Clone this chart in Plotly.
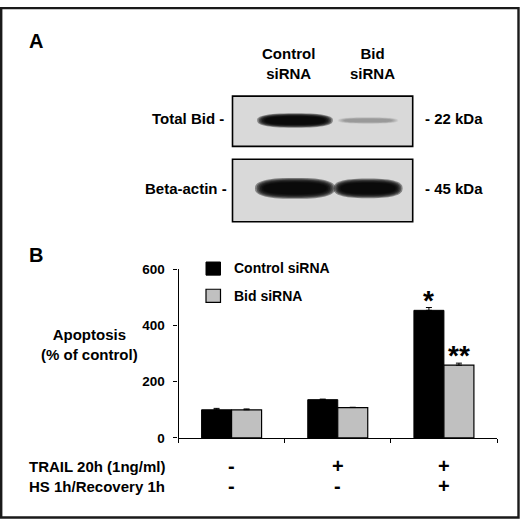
import numpy as np
import plotly.graph_objects as go

W, H = 520, 527

# ---- panel B: apoptosis bars ----
conditions = ["untreated", "TRAIL", "TRAIL + HS"]
trail_row = ["-", "+", "+"]
hs_row = ["-", "-", "+"]
control_sirna = [100, 136, 454]
control_err = [5, 2, 10]
bid_sirna = [100, 108, 259]
bid_err = [3, 1, 7]
y_ticks = [0, 200, 400, 600]
stars_control = ["", "", "*"]
stars_bid = ["", "", "**"]

# ---- panel A: western blot ----
lanes = ["Control<br>siRNA", "Bid<br>siRNA"]
blot_rows = ["Total Bid -", "Beta-actin -"]
kda_labels = ["- 22 kDa", "- 45 kDa"]
total_bid_band = [1.0, 0.3]   # relative band darkness per lane
actin_band = [1.0, 1.0]

FONT = "Liberation Sans, Arial, Helvetica, sans-serif"


def px(x):
    return x / W


def py(y):
    return 1 - y / H


def txt(text, x, y, size=15, xanchor="center", yanchor="middle", **kw):
    return dict(text=text, x=px(x), y=py(y), xref="paper", yref="paper",
                showarrow=False, xanchor=xanchor, yanchor=yanchor,
                font=dict(family=FONT, size=size, color="black", weight=700), **kw)


fig = go.Figure()

fig.add_trace(go.Bar(x=list(range(len(conditions))), y=control_sirna, name="Control siRNA",
                     marker=dict(color="black", line=dict(color="black", width=1)),
                     error_y=dict(type="data", symmetric=False, array=control_err,
                                  arrayminus=[0] * 3, color="black", thickness=1, width=3),
                     hovertext=conditions, showlegend=False))
fig.add_trace(go.Bar(x=list(range(len(conditions))), y=bid_sirna, name="Bid siRNA",
                     marker=dict(color="#c0c0c0", line=dict(color="black", width=1.2)),
                     error_y=dict(type="data", symmetric=False, array=bid_err,
                                  arrayminus=[0] * 3, color="black", thickness=1, width=3),
                     hovertext=conditions, showlegend=False))

# invisible anchor trace for the blot subplot
fig.add_trace(go.Scatter(x=[0, 1, 0, 1], y=[0, 0, 1, 1], xaxis="x2", yaxis="y2",
                         mode="markers", marker=dict(opacity=0), showlegend=False,
                         hoverinfo="skip"))

fig.update_layout(
    width=W, height=H, autosize=False,
    margin=dict(l=0, r=0, t=0, b=0),
    paper_bgcolor="white", plot_bgcolor="rgba(0,0,0,0)",
    barmode="group", bargap=0.435, bargroupgap=0,
    font=dict(family=FONT, size=14, color="black", weight=700),
    xaxis=dict(domain=[px(178.5), px(497)], range=[-0.5, 2.5],
               tickvals=[-0.5, 0.5, 1.5, 2.5], showticklabels=False,
               ticks="outside", ticklen=4, tickwidth=1, tickcolor="black",
               showline=True, linecolor="black", linewidth=1.2,
               showgrid=False, zeroline=False, fixedrange=True),
    yaxis=dict(domain=[py(443.5), py(270)], range=[0, 600], tickvals=y_ticks,
               ticks="outside", ticklen=4, tickwidth=1, tickcolor="black",
               ticklabelstandoff=6,
               tickfont=dict(family=FONT, size=13.5, color="black", weight=700),
               showline=True, linecolor="black", linewidth=1.2,
               showgrid=False, zeroline=False, fixedrange=True),
    xaxis2=dict(domain=[px(232.5), px(412.7)], range=[-0.856, 1.612],
                visible=False, anchor="y2", fixedrange=True),
    yaxis2=dict(domain=[py(221), py(91.7)], range=[1.491, -0.359],
                visible=False, anchor="x2", fixedrange=True),
)

shapes = []
# blot membranes
for y0, y1 in [(91.7, 143.5), (156.7, 221)]:
    shapes.append(dict(type="rect", xref="x2 domain", yref="paper", x0=0, x1=1,
                       y0=py(y1), y1=py(y0), fillcolor="#d9d9d9",
                       line=dict(color="black", width=1.6), layer="below"))


def blob_path(cx, cy, a, b, n=2.6, k=60):
    t = np.linspace(0, 2 * np.pi, k, endpoint=False)
    c, s = np.cos(t), np.sin(t)
    xs = cx + a * np.sign(c) * np.abs(c) ** (2 / n)
    ys = cy + b * np.sign(s) * np.abs(s) ** (2 / n)
    return "M" + " L".join(f"{x:.4f},{y:.4f}" for x, y in zip(xs, ys)) + " Z"


# band outline sizes in px (width, height) per row / lane
band_size = [[(70, 11), (56, 5)], [(74, 16), (64, 15)]]
lane_px, row_px = 73.0, 69.9
for r, row_vals in enumerate([total_bid_band, actin_band]):
    for lane, v in enumerate(row_vals):
        w, h = band_size[r][lane]
        target = 0.95 * v
        n_layers = 6
        alpha = 1 - (1 - target) ** (1 / n_layers)
        for i in range(n_layers):
            sx = 1.08 - 0.045 * i
            sy = 1.35 - 0.12 * i
            shapes.append(dict(type="path", xref="x2", yref="y2",
                               path=blob_path(lane, r, sx * w / 2 / lane_px,
                                              sy * h / 2 / row_px),
                               fillcolor="black", opacity=alpha,
                               line=dict(width=0), layer="above"))

# legend keys
shapes.append(dict(type="rect", xref="paper", yref="paper", x0=px(206), x1=px(220.5),
                   y0=py(276), y1=py(262.5), fillcolor="black", line=dict(color="black", width=1)))
shapes.append(dict(type="rect", xref="paper", yref="paper", x0=px(206), x1=px(220.5),
                   y0=py(304), y1=py(290.5), fillcolor="#c0c0c0", line=dict(color="black", width=1.2)))

# outer frame
shapes.append(dict(type="rect", xref="paper", yref="paper", x0=px(1.2), x1=px(518.5),
                   y0=py(525.5), y1=py(1.2), line=dict(color="#1a1a1a", width=2.4)))

ann = [
    txt("A", 27, 35, size=20, xanchor="left"),
    txt("B", 27, 255.5, size=20, xanchor="left"),
    txt(lanes[0], 288, 58.5),
    txt(lanes[1], 372, 58.5),
    txt(blot_rows[0], 225.5, 114.5, xanchor="right"),
    txt(blot_rows[1], 228.5, 186.7, xanchor="right"),
    txt(kda_labels[0], 423, 114.5, xanchor="left"),
    txt(kda_labels[1], 423, 186.7, xanchor="left"),
    txt("Control siRNA", 231.5, 268.5, size=14, xanchor="left"),
    txt("Bid siRNA", 231.5, 297.7, size=14, xanchor="left"),
    txt("Apoptosis<br>(% of control)", 89.6, 347.8),
    txt("TRAIL 20h (1ng/ml)", 26.5, 472.5, xanchor="left"),
    txt("HS 1h/Recovery 1h", 26.5, 493.5, xanchor="left"),
]

# +/- treatment table under each group
for i in range(len(conditions)):
    for label, ypix in [(trail_row[i], 472.5), (hs_row[i], 493.5)]:
        ann.append(dict(text=label, x=i, y=py(ypix), xref="x", yref="paper",
                        showarrow=False, xanchor="center", yanchor="middle",
                        font=dict(family=FONT, size=20, color="black", weight=700)))

# significance marks
half = (1 - 0.435) / 4
for i in range(len(conditions)):
    for mark, val, err, off in [(stars_control[i], control_sirna[i], control_err[i], -half),
                                (stars_bid[i], bid_sirna[i], bid_err[i], half)]:
        if mark:
            ann.append(dict(text=mark, x=i + off, y=val + err, xref="x", yref="y",
                            showarrow=False, xanchor="center", yanchor="bottom", yshift=-10,
                            font=dict(family=FONT, size=28, color="black", weight=700)))

fig.update_layout(shapes=shapes, annotations=ann)

# page without the default body margin so the figure sits at the window origin
fig.write_html("out.html", config={"displayModeBar": False},
               post_script="document.body.style.margin='0';")
